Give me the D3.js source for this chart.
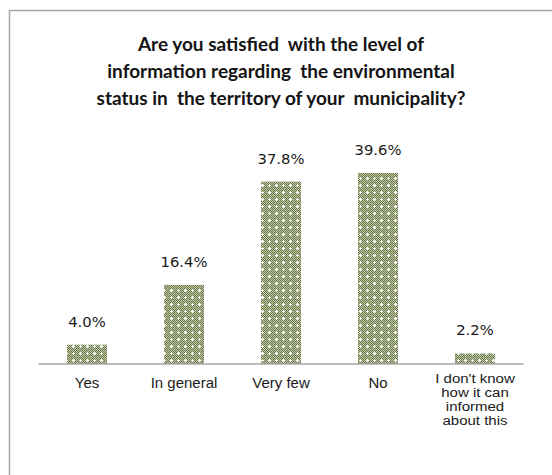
<!DOCTYPE html>
<html>
<head>
<meta charset="utf-8">
<script src="https://cdn.jsdelivr.net/npm/d3@7"></script>
<style>
  html, body { margin: 0; padding: 0; background: #fff; }
  svg { display: block; }
</style>
</head>
<body>
<svg id="chart" width="552" height="475"></svg>
<script>
// Survey answers and their shares (%)
const categories = ["Yes", "In general", "Very few", "No", "I don't know\nhow it can\ninformed\nabout this"];
const values = [4.0, 16.4, 37.8, 39.6, 2.2];
const titleLines = [
  "Are you satisfied  with the level of",
  "information regarding  the environmental",
  "status in  the territory of your  municipality?"
];

const svg = d3.select("#chart");

// Hatched fill: fine olive checker with white crosses on top
const defs = svg.append("defs");
const checker = defs.append("pattern")
  .attr("id", "checker").attr("patternUnits", "userSpaceOnUse")
  .attr("width", 2).attr("height", 2);
checker.append("rect").attr("width", 2).attr("height", 2).attr("fill", "#c2c9ab");
checker.append("rect").attr("width", 1).attr("height", 1).attr("fill", "#6a784a");
checker.append("rect").attr("x", 1).attr("y", 1).attr("width", 1).attr("height", 1).attr("fill", "#6a784a");

const dots = defs.append("pattern")
  .attr("id", "dots").attr("patternUnits", "userSpaceOnUse")
  .attr("width", 7).attr("height", 7);
dots.append("rect").attr("x", 3).attr("y", 2).attr("width", 1).attr("height", 3).attr("fill", "#ffffff");
dots.append("rect").attr("x", 2).attr("y", 3).attr("width", 3).attr("height", 1).attr("fill", "#ffffff");

// Chart frame
svg.append("rect")
  .attr("x", 9.5).attr("y", 10.5)
  .attr("width", 600).attr("height", 600)
  .attr("fill", "none")
  .attr("stroke", "#a6a6a6")
  .attr("stroke-width", 1.5);

// Title
svg.append("text")
  .attr("text-anchor", "middle")
  .attr("font-family", "Lato, 'Open Sans', sans-serif")
  .attr("font-weight", "bold")
  .attr("font-size", 19)
  .attr("fill", "#141414")
  .selectAll("tspan")
  .data(titleLines)
  .join("tspan")
  .attr("x", 281)
  .attr("y", (d, i) => 51 + i * 27)
  .attr("xml:space", "preserve")
  .style("white-space", "pre")
  .text(d => d);

const x = d3.scaleBand()
  .domain(categories)
  .range([38.5, 523.5])
  .paddingInner(0.59)
  .paddingOuter(0.295);

const y = d3.scaleLinear()
  .domain([0, 40])
  .range([364, 171]);

// Bars: base checker then the cross overlay
const bars = svg.append("g");
["url(#checker)", "url(#dots)"].forEach(fill => {
  bars.append("g").selectAll("rect")
    .data(values)
    .join("rect")
    .attr("x", (d, i) => Math.round(x(categories[i])))
    .attr("y", d => y(d))
    .attr("width", Math.round(x.bandwidth()))
    .attr("height", d => y(0) - y(d))
    .attr("fill", fill);
});

// Value labels
svg.append("g").selectAll("text")
  .data(values)
  .join("text")
  .attr("x", (d, i) => x(categories[i]) + x.bandwidth() / 2)
  .attr("y", d => y(d) - 18)
  .attr("text-anchor", "middle")
  .attr("font-family", "'DejaVu Sans', Verdana, sans-serif")
  .attr("font-size", 14.8)
  .attr("fill", "#1a1a1a")
  .text(d => d.toFixed(1) + "%");

// Category axis
const axis = d3.axisBottom(x).tickSize(0).tickFormat("");
const axisG = svg.append("g")
  .attr("transform", `translate(0,${y(0)})`)
  .call(axis);
axisG.select(".domain")
  .attr("stroke", "#a6a6a6")
  .attr("stroke-width", 1.5)
  .attr("d", `M${x.range()[0]},0H${x.range()[1]}`);

// Category labels; the wrapped one is set tighter and widened
const catG = svg.append("g")
  .attr("font-family", "'Liberation Sans', Arial, sans-serif")
  .attr("fill", "#1a1a1a")
  .attr("text-anchor", "middle");
categories.forEach(c => {
  const lines = c.split("\n");
  const cx = x(c) + x.bandwidth() / 2;
  const multi = lines.length > 1;
  const g = catG.append("g")
    .attr("transform", multi ? `translate(${cx},0) scale(1.25,1)` : `translate(${cx},0)`);
  const t = g.append("text").attr("font-size", multi ? 12 : 15);
  lines.forEach((ln, i) => {
    t.append("tspan")
      .attr("x", 0)
      .attr("y", (multi ? 383 : 388) + i * 14)
      .text(ln);
  });
});
</script>
</body>
</html>
